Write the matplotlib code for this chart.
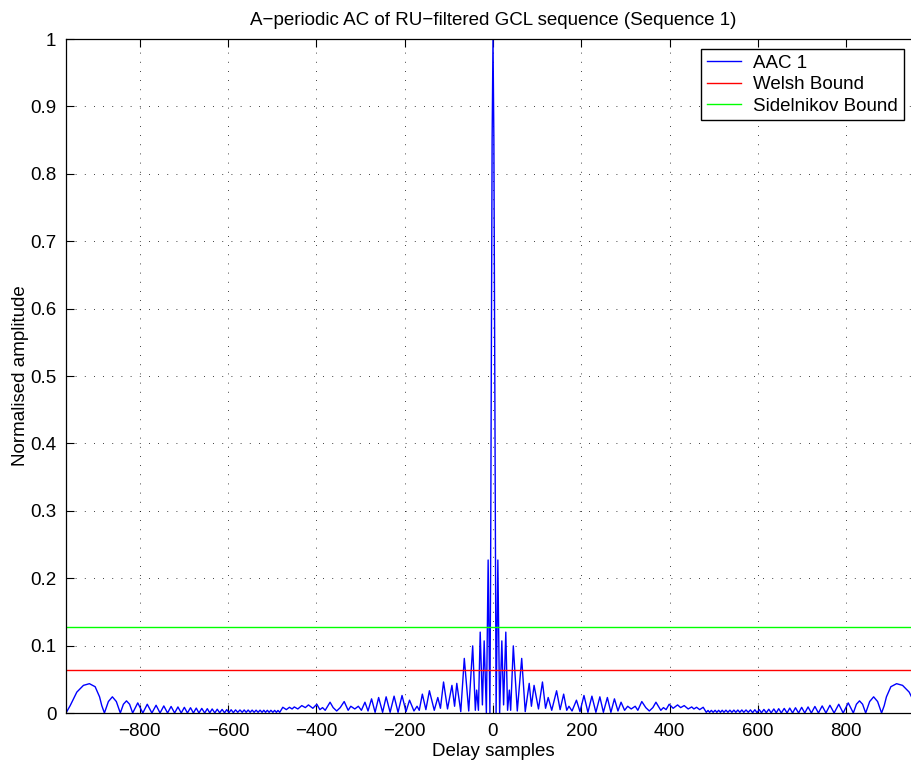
import numpy as np
import matplotlib
matplotlib.use('Agg')
import matplotlib.pyplot as plt

plt.rcParams['font.family'] = ['Liberation Sans', 'DejaVu Sans']

# |AAC| for lags >= 0 (curve is mirrored for lags < 0)
LAG_HALF = [0, 2, 4, 5.5, 7, 11, 15, 20, 24, 29, 33, 37, 40, 46, 55, 65, 73,
            82, 87, 93, 103, 112, 119, 125, 133, 144, 152, 160, 167, 172, 179,
            189, 197, 206, 215, 224, 233, 242, 250, 259, 267, 275, 283, 290,
            298, 305, 313, 322, 328, 337, 346, 354, 362, 369, 380, 386, 392,
            399, 408, 418, 425, 433, 442, 450, 455, 461, 468, 476, 483,
            487, 490.5, 494.5, 498.5, 503, 507, 511, 515, 519, 523, 527.5, 532,
            536.5, 541, 545.5, 550, 554.5, 559, 563.5, 568, 573, 578, 583, 588,
            593, 598, 603, 608, 613.5, 619, 624.5, 630, 636, 641.5, 647, 653,
            659.5, 666, 672, 678.5, 685, 692, 699, 706, 713.5, 721, 729, 737,
            745.5, 754, 763, 772.5, 783, 793, 804.5, 816, 823, 830, 837, 844,
            853, 862, 871, 880, 886, 891, 901, 914, 927.5, 942.5, 957.5, 967]
AAC_HALF = [1.0, 0.85, 0.5, 0.2, 0.0, 0.227, 0.0, 0.107, 0.012, 0.120, 0.004,
            0.034, 0.004, 0.0996, 0.003, 0.081, 0.002,
            0.044, 0.010, 0.041, 0.006, 0.046, 0.007, 0.023, 0.004, 0.033,
            0.005, 0.028, 0.004, 0.010, 0.003,
            0.019, 0.002, 0.026, 0.001, 0.025, 0.001, 0.024, 0.001, 0.023,
            0.001, 0.021, 0.003, 0.016,
            0.004, 0.010, 0.006, 0.010, 0.004, 0.017, 0.008, 0.003, 0.008,
            0.016, 0.004, 0.008, 0.005,
            0.013, 0.007, 0.012, 0.008, 0.011, 0.006, 0.009, 0.006, 0.0085,
            0.005, 0.0085, 0.001,
            0.0038, 0.001, 0.0039, 0.001, 0.004, 0.001, 0.004, 0.001, 0.0041,
            0.001, 0.0042, 0.001,
            0.0042, 0.001, 0.0043, 0.001, 0.0044, 0.001, 0.0045, 0.001, 0.0045,
            0.001, 0.0046, 0.0005,
            0.0048, 0.0005, 0.005, 0.0003, 0.0053, 0.0003, 0.0056, 0.0002,
            0.006, 0.0002, 0.0064, 0.0,
            0.0068, 0.0, 0.0073, 0.0, 0.0078, 0.0, 0.0084, 0.0, 0.009, 0.0,
            0.0097, 0.0,
            0.0105, 0.0, 0.0115, 0.0, 0.013, 0.0, 0.015, 0.0, 0.013, 0.018,
            0.013, 0.0,
            0.017, 0.024, 0.017, 0.0, 0.011, 0.024, 0.039, 0.0435, 0.041,
            0.031, 0.011, 0.0]

WELSH = 0.064
SIDELNIKOV = 0.128
XLIM = [-967, 967]
XTICKS = [-800, -600, -400, -200, 0, 200, 400, 600, 800]
YTICKS = [0, 0.1, 0.2, 0.3, 0.4, 0.5, 0.6, 0.7, 0.8, 0.9, 1]
YTICK_LABELS = ['0', '0.1', '0.2', '0.3', '0.4', '0.5', '0.6', '0.7', '0.8',
                '0.9', '1']
FS = 13.5

lag_half = np.array(LAG_HALF)
aac_half = np.array(AAC_HALF)
lags = np.concatenate([-lag_half[:0:-1], lag_half])
aac = np.concatenate([aac_half[:0:-1], aac_half])

fig = plt.figure(figsize=(9.12, 7.66), dpi=100)
# axes run a little past the right edge of the picture, as in the original
ax = fig.add_axes([66 / 912, 53 / 766, 854 / 912, 674 / 766])

ax.plot(lags, aac, color=(0, 0, 1), lw=1.0, label='AAC 1')
ax.plot(XLIM, [WELSH, WELSH], color=(1, 0, 0), lw=1.0, label='Welsh Bound')
ax.plot(XLIM, [SIDELNIKOV, SIDELNIKOV], color=(0, 1, 0), lw=1.0,
        label='Sidelnikov Bound')

ax.set_xlim(XLIM)
ax.set_ylim(0, 1)
ax.set_xticks(XTICKS)
ax.set_yticks(YTICKS)
ax.set_yticklabels(YTICK_LABELS)
ax.tick_params(direction='in', top=True, right=True, length=6, width=0.8,
               labelsize=FS, pad=7)
ax.grid(True, color='k', linestyle=(0, (1, 10)), lw=0.6)
for sp in ax.spines.values():
    sp.set_linewidth(0.9)

ax.set_title('A\u2212periodic AC of RU\u2212filtered GCL sequence (Sequence 1)',
             fontsize=FS, pad=10)
ax.set_xlabel('Delay samples', fontsize=FS, labelpad=2)
ax.set_ylabel('Normalised amplitude', fontsize=FS, labelpad=1)

ax.legend(loc='upper left', bbox_to_anchor=(701 / 912, 1 - 49 / 766),
          bbox_transform=fig.transFigure, fontsize=FS, fancybox=False,
          edgecolor='k', framealpha=1, borderpad=0.3, labelspacing=0.23,
          handlelength=1.85, handletextpad=0.65, borderaxespad=0)

fig.savefig('out.png', dpi=100)
